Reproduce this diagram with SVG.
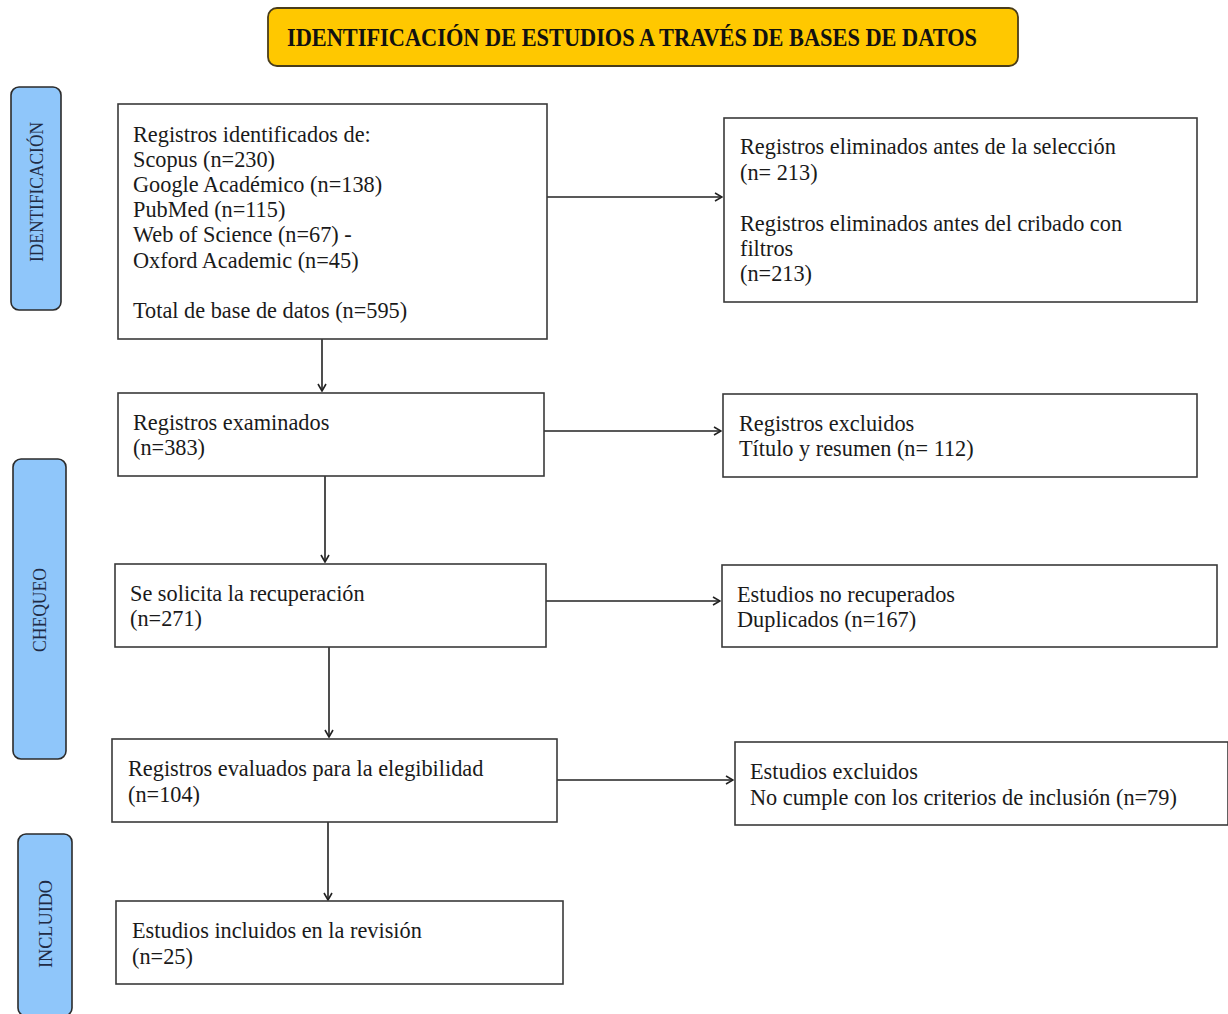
<svg xmlns="http://www.w3.org/2000/svg" width="1228" height="1014" viewBox="0 0 1228 1014">
<style>
.box{fill:#fff;stroke:#3a3a3a;stroke-width:1.6}
.phase{fill:#8fc6fa;stroke:#2b2b2b;stroke-width:1.6}
.t{font-family:"Liberation Serif","Times New Roman",serif;font-size:22.3px;fill:#1a1a1a}
.pt{font-family:"Liberation Serif","Times New Roman",serif;font-size:19px;fill:#1f2b45}
.title{font-family:"Liberation Serif","Times New Roman",serif;font-size:26px;font-weight:bold;fill:#111}
.conn{stroke:#222;stroke-width:1.6;fill:none}
</style>
<defs>
<marker id="ah" viewBox="0 0 10 10" refX="9" refY="5" markerWidth="10" markerHeight="10" markerUnits="userSpaceOnUse" orient="auto">
<path d="M2,1 L9,5 L2,9" fill="none" stroke="#222" stroke-width="1.6"/>
</marker>
</defs>
<rect width="1228" height="1014" fill="#fff"/>

<g id="title">
<rect x="268" y="8" width="750" height="58" rx="9" fill="#ffc800" stroke="#4a3d1a" stroke-width="1.8"/>
<text class="title" x="287" y="46" textLength="690" lengthAdjust="spacingAndGlyphs">IDENTIFICACIÓN DE ESTUDIOS A TRAVÉS DE BASES DE DATOS</text>
</g>

<g id="phase-identificacion">
<rect class="phase" x="11" y="87" width="50" height="223" rx="8"/>
<text class="pt" transform="translate(43,192) rotate(-90)" text-anchor="middle" textLength="140" lengthAdjust="spacingAndGlyphs">IDENTIFICACIÓN</text>
</g>
<g id="phase-chequeo">
<rect class="phase" x="13" y="459" width="53" height="300" rx="8"/>
<text class="pt" transform="translate(46,610) rotate(-90)" text-anchor="middle" textLength="84" lengthAdjust="spacingAndGlyphs">CHEQUEO</text>
</g>
<g id="phase-incluido">
<rect class="phase" x="18" y="834" width="54" height="182" rx="8"/>
<text class="pt" transform="translate(52,924) rotate(-90)" text-anchor="middle" textLength="88" lengthAdjust="spacingAndGlyphs">INCLUIDO</text>
</g>

<g id="connectors">
<line class="conn" x1="547" y1="197" x2="722" y2="197" marker-end="url(#ah)"/>
<line class="conn" x1="322" y1="339" x2="322" y2="391" marker-end="url(#ah)"/>
<line class="conn" x1="544" y1="431" x2="721" y2="431" marker-end="url(#ah)"/>
<line class="conn" x1="325" y1="476" x2="325" y2="562" marker-end="url(#ah)"/>
<line class="conn" x1="546" y1="601" x2="720" y2="601" marker-end="url(#ah)"/>
<line class="conn" x1="329" y1="647" x2="329" y2="737" marker-end="url(#ah)"/>
<line class="conn" x1="557" y1="780" x2="733" y2="780" marker-end="url(#ah)"/>
<line class="conn" x1="328" y1="822" x2="328" y2="900" marker-end="url(#ah)"/>
</g>

<g id="n1">
<rect class="box" x="118" y="104" width="429" height="235"/>
<text class="t" x="133" y="142">Registros identificados de:</text>
<text class="t" x="133" y="167">Scopus (n=230)</text>
<text class="t" x="133" y="192">Google Académico (n=138)</text>
<text class="t" x="133" y="217">PubMed (n=115)</text>
<text class="t" x="133" y="242">Web of Science (n=67) -</text>
<text class="t" x="133" y="268">Oxford Academic (n=45)</text>
<text class="t" x="133" y="318">Total de base de datos (n=595)</text>
</g>
<g id="n2">
<rect class="box" x="724" y="118" width="473" height="184"/>
<text class="t" x="740" y="154">Registros eliminados antes de la selección</text>
<text class="t" x="740" y="180">(n= 213)</text>
<text class="t" x="740" y="231">Registros eliminados antes del cribado con</text>
<text class="t" x="740" y="256">filtros</text>
<text class="t" x="740" y="281">(n=213)</text>
</g>
<g id="n3">
<rect class="box" x="118" y="393" width="426" height="83"/>
<text class="t" x="133" y="430">Registros examinados</text>
<text class="t" x="133" y="455">(n=383)</text>
</g>
<g id="n4">
<rect class="box" x="723" y="394" width="474" height="83"/>
<text class="t" x="739" y="431">Registros excluidos</text>
<text class="t" x="739" y="456">Título y resumen (n= 112)</text>
</g>
<g id="n5">
<rect class="box" x="115" y="564" width="431" height="83"/>
<text class="t" x="130" y="601">Se solicita la recuperación</text>
<text class="t" x="130" y="626">(n=271)</text>
</g>
<g id="n6">
<rect class="box" x="722" y="565" width="495" height="82"/>
<text class="t" x="737" y="602">Estudios no recuperados</text>
<text class="t" x="737" y="627">Duplicados (n=167)</text>
</g>
<g id="n7">
<rect class="box" x="112" y="739" width="445" height="83"/>
<text class="t" x="128" y="776">Registros evaluados para la elegibilidad</text>
<text class="t" x="128" y="802">(n=104)</text>
</g>
<g id="n8">
<rect class="box" x="735" y="742" width="493" height="83"/>
<text class="t" x="750" y="779">Estudios excluidos</text>
<text class="t" x="750" y="805">No cumple con los criterios de inclusión (n=79)</text>
</g>
<g id="n9">
<rect class="box" x="116" y="901" width="447" height="83"/>
<text class="t" x="132" y="938">Estudios incluidos en la revisión</text>
<text class="t" x="132" y="964">(n=25)</text>
</g>
</svg>
